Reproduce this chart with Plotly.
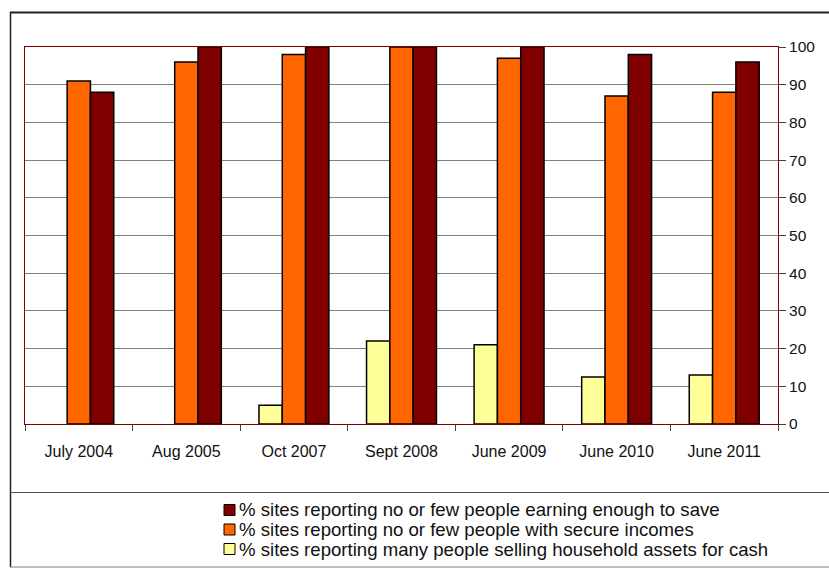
import plotly.graph_objects as go

categories = ["July 2004", "Aug 2005", "Oct 2007", "Sept 2008", "June 2009", "June 2010", "June 2011"]
selling_assets = [None, None, 5, 22, 21, 12.5, 13]
secure_incomes = [91, 96, 98, 100, 97, 87, 88]
earning_save = [88, 100, 100, 100, 100, 98, 96]

names = [
    "% sites reporting many people selling household assets for cash",
    "% sites reporting no or few people with secure incomes",
    "% sites reporting no or few people earning enough to save",
]
colors = ["#FFFF99", "#FF6600", "#800000"]

W, H = 829, 568
L, R, T, B = 25, 778, 47, 424

fig = go.Figure()
for vals, name, col in zip([selling_assets, secure_incomes, earning_save], names, colors):
    fig.add_trace(go.Bar(x=categories, y=vals, name=name,
                         marker=dict(color=col, line=dict(color="black", width=1.5))))


def px(x):
    return (x - L) / (R - L)


def py(y):
    return (B - y) / (B - T)


font = "Liberation Sans, Arial, sans-serif"

# manual legend (reversed order, as in the reference)
legend_rows = [(names[2], colors[2], 510), (names[1], colors[1], 529.5), (names[0], colors[0], 549)]
annotations = []
legend_shapes = []
for text, col, yc in legend_rows:
    annotations.append(dict(xref="paper", yref="paper", x=px(237), y=py(yc), xanchor="left",
                            yanchor="middle", text=text, showarrow=False,
                            font=dict(family=font, size=18.6, color="#111111")))
    legend_shapes.append(dict(type="rect", xref="paper", yref="paper", x0=px(224), x1=px(235),
                              y0=py(yc + 5.5), y1=py(yc - 5.5), fillcolor=col,
                              line=dict(color="black", width=1)))

fig.update_layout(
    width=W, height=H,
    margin=dict(l=L, r=W - R, t=T, b=H - B, autoexpand=False),
    paper_bgcolor="white", plot_bgcolor="white",
    barmode="group", bargap=0.35, bargroupgap=0,
    font=dict(family=font, size=16, color="black"),
    showlegend=False,
    xaxis=dict(showgrid=False, showline=True, linecolor="#800000", linewidth=1, mirror=True,
               ticks="outside", tickson="boundaries", ticklen=6, tickcolor="#404040",
               ticklabelstandoff=13, tickfont=dict(size=16, family=font, color="#111111")),
    yaxis=dict(range=[0, 100], dtick=10, side="right", showgrid=True, gridcolor="#808080",
               gridwidth=1, showline=True, linecolor="#800000", linewidth=1, mirror=True,
               ticks="outside", ticklen=7, tickcolor="#404040", zeroline=False,
               tickfont=dict(size=15.5, family=font, color="#111111")),
    annotations=annotations,
    shapes=[
        dict(type="line", xref="paper", yref="paper", x0=px(10), x1=px(840), y0=py(12.5), y1=py(12.5),
             line=dict(color="#202020", width=2)),
        dict(type="line", xref="paper", yref="paper", x0=px(10.5), x1=px(10.5), y0=py(12), y1=py(567),
             line=dict(color="#202020", width=1.5)),
        dict(type="line", xref="paper", yref="paper", x0=px(10), x1=px(840), y0=py(492.5), y1=py(492.5),
             line=dict(color="#505050", width=1)),
        dict(type="line", xref="paper", yref="paper", x0=px(10), x1=px(840), y0=py(567), y1=py(567),
             line=dict(color="#808080", width=1)),
    ] + legend_shapes,
)

fig.write_html("out.html", config={"displayModeBar": False},
               post_script="document.body.style.margin='0';document.body.style.overflow='hidden';")
